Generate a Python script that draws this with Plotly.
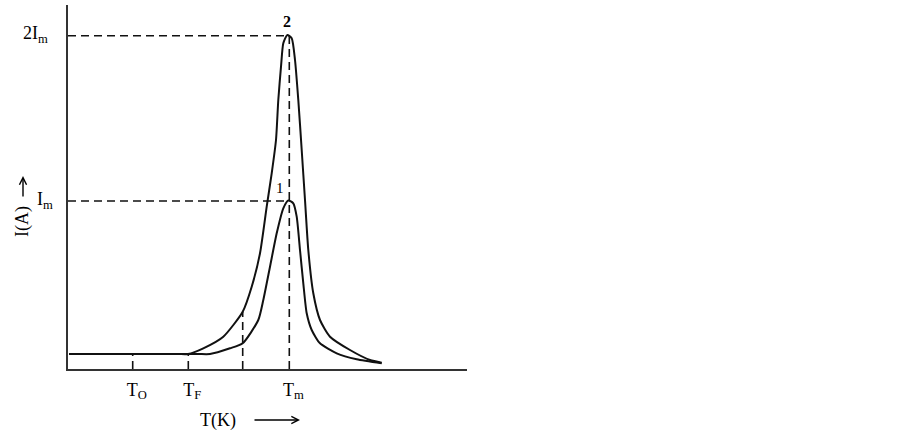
import plotly.graph_objects as go

# ---- data (arbitrary units) ----
T_curve2 = [1, 60, 110, 120, 135.3, 155.3, 174.7, 183.7, 192, 198.7, 203.7, 208, 210.3, 213, 215.3,
            219.3, 223.7, 227, 230.3, 233.7, 237, 240.3, 245.3, 252, 262, 282, 302, 313.7]
I_curve2 = [15, 15, 15, 15, 20.7, 32.3, 57.3, 82.3, 115.7, 162.3, 195.7, 229, 269, 302.3, 325.7,
            334, 330.7, 309, 269, 219, 169, 119, 75.7, 49, 32.3, 19, 9, 6.3]

T_curve1 = [1, 60, 130, 142, 162, 174.7, 190.3, 195.3, 202, 208.7, 215.3, 220.3, 225.3, 228.7,
            232, 235.3, 238.7, 243.7, 252, 268.7, 288.7, 313.7]
I_curve1 = [15, 15, 15, 15, 20.7, 25.7, 49, 69, 102.3, 135.7, 160.7, 168.5, 165.7, 152.3,
            119, 85.7, 55.7, 39, 25.7, 15.7, 9.7, 5.7]

T_O, T_F, T_m, T_mid = 64.7, 120.3, 221.3, 174.7
I_base, I_m, I_2m, I_mid = 15, 168, 333.3, 57.3

x_tick_vals = [T_O, T_F, T_m]
x_tick_text = ["T<sub>O</sub>", "T<sub>F</sub>", "T<sub>m</sub>"]
y_tick_vals = [I_2m, I_m]
y_tick_text = ["2I<sub>m</sub>", "I<sub>m</sub>"]

FONT = "Liberation Serif"
dash = "8px,5px"
X0, XW, Y0, YH = 68, 399, 369, 364   # plot area in pixels (left, width, bottom, height)


def px(xp):
    return (xp - X0) / XW


def py(yp):
    return (Y0 - yp) / YH


fig = go.Figure()

# dashed guide lines
guides = [
    ([0, T_m - 2], [I_2m, I_2m]),
    ([0, T_m - 1], [I_m, I_m]),
    ([T_m, T_m], [0, I_2m]),
    ([T_mid, T_mid], [0, I_mid]),
    ([T_F, T_F], [0, I_base]),
    ([T_O, T_O], [0, I_base]),
]
for gx, gy in guides:
    fig.add_trace(go.Scatter(x=gx, y=gy, mode="lines",
                             line=dict(color="#111", width=1.6, dash=dash),
                             hoverinfo="skip", showlegend=False))

fig.add_trace(go.Scatter(x=T_curve2, y=I_curve2, mode="lines",
                         line=dict(color="#111", width=2, shape="spline", smoothing=0.6),
                         showlegend=False))
fig.add_trace(go.Scatter(x=T_curve1, y=I_curve1, mode="lines",
                         line=dict(color="#111", width=2, shape="spline", smoothing=0.6),
                         showlegend=False))

fig.add_annotation(x=219.3, y=337, xref="x", yref="y", text="<b>2</b>", showarrow=False,
                   yanchor="bottom", font=dict(family=FONT, size=16, color="#000"))
fig.add_annotation(x=211.5, y=171, xref="x", yref="y", text="1", showarrow=False,
                   yanchor="bottom", font=dict(family=FONT, size=15, color="#000"))

# y-axis level labels (2I_m, I_m)
for val, txt, right in zip(y_tick_vals, y_tick_text, [50, 55]):
    fig.add_annotation(x=px(right), y=val, xref="paper", yref="y", text=txt,
                       showarrow=False, xanchor="right", yanchor="middle", yshift=1,
                       font=dict(family=FONT, size=18, color="#000"))

# axis titles
fig.add_annotation(x=px(22), y=py(222), xref="paper", yref="paper",
                   text="I(A)", textangle=-90, showarrow=False,
                   xanchor="center", yanchor="middle",
                   font=dict(family=FONT, size=18, color="#000"))
fig.add_annotation(x=px(23), y=py(176), xref="paper", yref="paper",
                   ax=0, ay=22, text="", showarrow=True, arrowhead=5, arrowsize=1,
                   arrowwidth=1.4, arrowcolor="#000")
fig.add_annotation(x=px(218), y=py(420), xref="paper", yref="paper",
                   text="T(K)", showarrow=False, xanchor="center", yanchor="middle",
                   font=dict(family=FONT, size=18, color="#000"))
fig.add_annotation(x=px(300), y=py(420), xref="paper", yref="paper",
                   ax=-47, ay=0, text="", showarrow=True, arrowhead=5, arrowsize=1,
                   arrowwidth=1.4, arrowcolor="#000")

fig.update_layout(
    width=903, height=431,
    margin=dict(l=X0, r=903 - X0 - XW, t=Y0 - YH, b=431 - Y0),
    paper_bgcolor="white", plot_bgcolor="white",
    font=dict(family=FONT, size=18, color="#000"),
    xaxis=dict(range=[0, XW], showgrid=False, zeroline=False, showline=True,
               linecolor="#333", linewidth=2, tickvals=x_tick_vals, ticktext=x_tick_text,
               ticks="", ticklabelstandoff=3, ticklabelshift=4,
               fixedrange=True, automargin=False),
    yaxis=dict(range=[0, YH], showgrid=False, zeroline=False, showline=True,
               linecolor="#333", linewidth=2, showticklabels=False, ticks="",
               fixedrange=True, automargin=False),
)

fig.write_html("out.html", config={"displayModeBar": False},
               post_script="document.body.style.margin='0';")
